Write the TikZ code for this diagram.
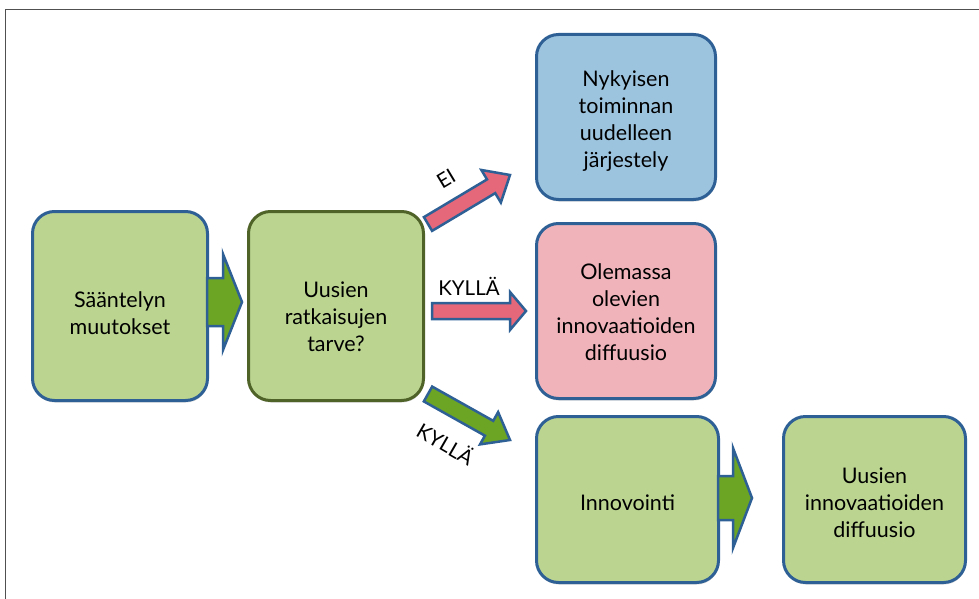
\documentclass[tikz,border=0pt]{standalone}
\usepackage{fontspec}
\setmainfont{Lato}
\usetikzlibrary{calc,shadows}
\definecolor{bordblue}{HTML}{2E6096}
\definecolor{bordolive}{HTML}{4F6228}
\definecolor{boxgreen}{HTML}{BBD591}
\definecolor{boxblue}{HTML}{9DC4DF}
\definecolor{boxpink}{HTML}{F0B3BA}
\definecolor{arrgreen}{HTML}{6CA524}
\definecolor{arrred}{HTML}{E4677A}
\definecolor{framegray}{HTML}{505050}
\newcommand\blockarrow[6]{%
  \coordinate (ba-b) at ($(#3)!#6!(#2)$);
  \draw[#1] ($(#2)!#4!90:(#3)$) -- ($(ba-b)!#4!90:(#3)$) -- ($(ba-b)!#5!90:(#3)$) -- (#3)
    -- ($(ba-b)!#5!-90:(#3)$) -- ($(ba-b)!#4!-90:(#3)$) -- ($(#2)!#4!-90:(#3)$) -- cycle;}
\begin{document}
\begin{tikzpicture}[x=1pt,y=-1pt,
  box/.style={draw=bordblue, line width=3pt, rounded corners=22pt,
    inner sep=0pt,
    drop shadow={shadow xshift=0.5pt, shadow yshift=-2pt, fill=black!30, opacity=0.5}},
  boxtext/.style={align=center, inner sep=0pt, font=\fontsize{21.5}{27}\selectfont, text=black},
  greenarrow/.style={draw=bordblue, fill=arrgreen, line width=2.5pt, line join=miter},
  redarrow/.style={draw=bordblue, fill=arrred, line width=2.5pt, line join=miter},
  lab/.style={font=\fontsize{20.5}{22}\selectfont, text=black, inner sep=0pt}]
\useasboundingbox (0,0) rectangle (979,599);
\draw[framegray, line width=1pt] (5,599) -- (5,10) -- (979,10);

\node[box, fill=boxgreen, minimum width=175pt, minimum height=189pt,
  label={[boxtext, yshift=-7pt]center:{Sääntelyn\\muutokset}}] (A) at (120,306) {};
\node[box, fill=boxgreen, draw=bordolive, minimum width=175pt, minimum height=189pt,
  label={[boxtext, yshift=-11pt]center:{Uusien\\ratkaisujen\\tarve?}}] (B) at (336,306) {};
\node[box, fill=boxblue, minimum width=179pt, minimum height=165pt,
  label={[boxtext, yshift=-4pt]center:{Nykyisen\\toiminnan\\uudelleen\\järjestely}}] (C) at (626,117) {};
\node[box, fill=boxpink, minimum width=179pt, minimum height=175pt,
  label={[boxtext, yshift=-1pt]center:{Olemassa\\olevien\\innovaatioiden\\diffuusio}}] (D) at (626,311) {};
\node[box, fill=boxgreen, minimum width=182pt, minimum height=166pt,
  label={[boxtext, yshift=-3pt]center:{Innovointi}}] (E) at (627.5,499.5) {};
\node[box, fill=boxgreen, minimum width=182pt, minimum height=166pt,
  label={[boxtext, yshift=-3pt]center:{Uusien\\innovaatioiden\\diffuusio}}] (F) at (874.5,499.5) {};

% block arrows
\coordinate (ab0) at (207,302);
\coordinate (ab1) at (242,302);
\blockarrow{greenarrow}{ab0}{ab1}{24pt}{48pt}{19pt}
\coordinate (ef0) at (718,498);
\coordinate (ef1) at (752,498);
\blockarrow{greenarrow}{ef0}{ef1}{22pt}{50pt}{19pt}
\coordinate (bc0) at (428,224);
\coordinate (bc1) at (510,175);
\blockarrow{redarrow}{bc0}{bc1}{8pt}{19pt}{22pt}
\coordinate (bd0) at (432,311);
\coordinate (bd1) at (526,311);
\blockarrow{redarrow}{bd0}{bd1}{8pt}{19pt}{16pt}
\coordinate (be0) at (428,394);
\coordinate (be1) at (510,440);
\blockarrow{greenarrow}{be0}{be1}{8.5pt}{18.5pt}{24pt}

% labels
\node[lab, rotate=31] (lei) at (446,179) {EI};
\node[lab] (lky1) at (469,286) {KYLLÄ};
\node[lab, rotate=-30] (lky2) at (446,443) {KYLLÄ};
\end{tikzpicture}
\end{document}
